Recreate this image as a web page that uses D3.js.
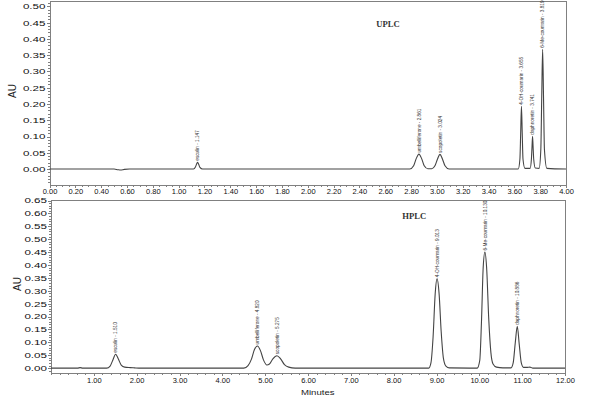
<!DOCTYPE html>
<html>
<head>
<meta charset="utf-8">
<script src="https://cdn.jsdelivr.net/npm/d3@7"></script>
<style>
  body { margin: 0; background: #fff; }
  svg { display: block; }
  .axis path, .axis line { stroke: #808080; shape-rendering: crispEdges; }
  .axis text { font-family: "Liberation Sans", Arial, sans-serif; font-size: 7.5px; fill: #111; }
  .frame { fill: none; stroke: #808080; shape-rendering: crispEdges; }
  .trace { fill: none; stroke: #444; stroke-width: 1.1; }
  .peak-label { font-family: "Liberation Sans Narrow", "Liberation Sans", Arial, sans-serif; font-size: 4.7px; fill: #333; }
  .au { font-family: "Liberation Sans", Arial, sans-serif; font-size: 10px; fill: #222; }
  .title { font-family: "Liberation Serif", "Times New Roman", serif; font-size: 7.5px; font-weight: bold; fill: #333; }
</style>
</head>
<body>
<div id="chart"></div>
<script>
// UPLC trace (minutes / AU)
var uplcTime = [0.00, 0.50, 0.53, 0.55, 0.58, 0.62,
    1.115, 1.130, 1.140, 1.147, 1.155, 1.165, 1.185,
    2.790, 2.820, 2.840, 2.861, 2.882, 2.902, 2.930,
    2.960, 2.985, 3.005, 3.024, 3.043, 3.063, 3.095,
    3.630, 3.643, 3.649, 3.655, 3.661, 3.667, 3.682,
    3.722, 3.732, 3.737, 3.741, 3.745, 3.750, 3.762,
    3.792, 3.805, 3.812, 3.819, 3.826, 3.833, 3.852, 4.00];
var uplcAU = [0.000, 0.000, -0.002, -0.003, -0.001, 0.000,
    0.000, 0.006, 0.016, 0.021, 0.015, 0.005, 0.000,
    0.000, 0.010, 0.032, 0.046, 0.032, 0.010, 0.001,
    0.001, 0.010, 0.031, 0.045, 0.031, 0.010, 0.000,
    0.000, 0.030, 0.110, 0.193, 0.110, 0.030, 0.002,
    0.002, 0.030, 0.070, 0.101, 0.070, 0.030, 0.003,
    0.002, 0.060, 0.220, 0.368, 0.220, 0.060, 0.002, 0.000];

var uplcPeakName = ["esculin", "umbelliferone", "scopoletin", "4-OH-coumarin", "daphnoretin", "6-Me-coumarin"];
var uplcPeakTime = [1.147, 2.861, 3.024, 3.655, 3.741, 3.819];
var uplcPeakAU = [0.021, 0.046, 0.045, 0.193, 0.101, 0.368];

var uplcXTicks = [0.00, 0.20, 0.40, 0.60, 0.80, 1.00, 1.20, 1.40, 1.60, 1.80, 2.00,
    2.20, 2.40, 2.60, 2.80, 3.00, 3.20, 3.40, 3.60, 3.80, 4.00];
var uplcYTicks = [0.00, 0.05, 0.10, 0.15, 0.20, 0.25, 0.30, 0.35, 0.40, 0.45, 0.50];

// HPLC trace
var hplcTime = [0.00, 0.62, 0.68, 0.74,
    1.30, 1.38, 1.44, 1.51, 1.57, 1.64, 1.72, 1.85, 1.95, 2.05,
    4.50, 4.60, 4.68, 4.75, 4.82, 4.89, 4.96, 5.04,
    5.10, 5.18, 5.275, 5.36, 5.45, 5.55, 5.70,
    8.82, 8.87, 8.92, 8.97, 9.013, 9.06, 9.11, 9.16, 9.22, 9.30,
    9.95, 10.01, 10.05, 10.09, 10.13, 10.17, 10.22, 10.27, 10.32, 10.40, 10.55,
    10.74, 10.79, 10.84, 10.886, 10.93, 10.98, 11.03, 11.12, 11.18, 11.25, 12.00];
var hplcAU = [0.000, 0.000, 0.002, 0.000,
    0.000, 0.008, 0.030, 0.054, 0.036, 0.012, 0.004, 0.002, 0.001, 0.000,
    0.000, 0.010, 0.035, 0.072, 0.086, 0.068, 0.032, 0.012,
    0.016, 0.036, 0.048, 0.036, 0.014, 0.004, 0.000,
    0.000, 0.020, 0.120, 0.290, 0.347, 0.290, 0.140, 0.040, 0.008, 0.001,
    0.000, 0.030, 0.180, 0.390, 0.450, 0.390, 0.190, 0.060, 0.016, 0.004, 0.001,
    0.001, 0.020, 0.100, 0.162, 0.095, 0.020, 0.003, 0.003, 0.004, 0.000, 0.000];

var hplcPeakName = ["esculin", "umbelliferone", "scopoletin", "4-OH-coumarin", "6-Me-coumarin", "daphnoretin"];
var hplcPeakTime = [1.510, 4.820, 5.275, 9.013, 10.130, 10.886];
var hplcPeakAU = [0.054, 0.086, 0.048, 0.347, 0.450, 0.162];

var hplcXTicks = [1.00, 2.00, 3.00, 4.00, 5.00, 6.00, 7.00, 8.00, 9.00, 10.00, 11.00, 12.00];
var hplcYTicks = [0.00, 0.05, 0.10, 0.15, 0.20, 0.25, 0.30, 0.35, 0.40, 0.45, 0.50, 0.55, 0.60, 0.65];

var width = 600, height = 406;
var fmt2 = d3.format(".2f"), fmt3 = d3.format(".3f");

var svg = d3.select("#chart").append("svg")
    .attr("width", width)
    .attr("height", height);

function drawPanel(p) {
    var x = d3.scaleLinear().domain(p.xDomain).range([p.left, p.right]);
    var y = d3.scaleLinear().domain(p.yDomain).range([p.bottom, p.top]);
    var g = svg.append("g");

    // top and right border
    g.append("path")
        .attr("class", "frame")
        .attr("d", "M" + p.left + "," + p.top + "H" + p.right + "V" + p.bottom);

    // minor ticks
    g.append("g")
        .attr("class", "axis")
        .attr("transform", "translate(0," + p.bottom + ")")
        .call(d3.axisBottom(x).tickValues(p.xMinor).tickSize(2).tickFormat(""))
        .select(".domain").remove();
    g.append("g")
        .attr("class", "axis")
        .attr("transform", "translate(" + p.left + ",0)")
        .call(d3.axisLeft(y).tickValues(p.yMinor).tickSize(2).tickFormat(""))
        .select(".domain").remove();

    // major ticks
    var xa = g.append("g")
        .attr("class", "axis")
        .attr("transform", "translate(0," + p.bottom + ")")
        .call(d3.axisBottom(x).tickValues(p.xTicks).tickSize(3).tickSizeOuter(0)
            .tickPadding(p.xPad).tickFormat(fmt2));
    xa.selectAll("text").attr("transform", "scale(" + p.xStretch + ",1)");

    var ya = g.append("g")
        .attr("class", "axis")
        .attr("transform", "translate(" + p.left + ",0)")
        .call(d3.axisLeft(y).tickValues(p.yTicks).tickSize(3).tickSizeOuter(0).tickFormat(fmt2));
    ya.selectAll("text")
        .attr("x", -4 / p.yStretch)
        .attr("transform", "scale(" + p.yStretch + ",1)");

    // trace
    var line = d3.line()
        .x(function (i) { return x(p.time[i]); })
        .y(function (i) { return y(p.au[i]); })
        .curve(d3.curveMonotoneX);
    g.append("path")
        .attr("class", "trace")
        .attr("d", line(d3.range(p.time.length)));

    // peak labels
    g.selectAll(".peak-label")
        .data(d3.range(p.peakName.length))
        .enter()
        .append("text")
        .attr("class", "peak-label")
        .attr("transform", function (i) {
            return "translate(" + x(p.peakTime[i]) + "," + (y(p.peakAU[i]) - 1.5) + ")rotate(-90)";
        })
        .attr("dy", "0.35em")
        .text(function (i) { return p.peakName[i] + " - " + fmt3(p.peakTime[i]); });

    // AU label
    g.append("text")
        .attr("class", "au")
        .attr("text-anchor", "middle")
        .attr("transform", "translate(" + p.auX + "," + p.auY + ")rotate(-90)")
        .attr("dy", "0.35em")
        .text("AU");

    // panel title
    g.append("text")
        .attr("class", "title")
        .attr("transform", "translate(" + x(p.titleAt[0]) + "," + y(p.titleAt[1]) + ")scale(1.15,1)")
        .text(p.title);

    return { x: x, y: y };
}

drawPanel({
    left: 49.5, right: 566, top: 1.5, bottom: 185,
    xDomain: [0, 4], yDomain: [-0.049, 0.515],
    xTicks: uplcXTicks, yTicks: uplcYTicks,
    xMinor: d3.range(0, 4.001, 0.05), yMinor: d3.range(-0.04, 0.511, 0.01),
    xPad: 0.5, xStretch: 1.0, yStretch: 1.55,
    time: uplcTime, au: uplcAU,
    peakName: uplcPeakName, peakTime: uplcPeakTime, peakAU: uplcPeakAU,
    auX: 12.5, auY: 91,
    title: "UPLC", titleAt: [2.53, 0.437]
});

drawPanel({
    left: 51, right: 565, top: 200.5, bottom: 373.3,
    xDomain: [0, 12], yDomain: [-0.02, 0.65],
    xTicks: hplcXTicks, yTicks: hplcYTicks,
    xMinor: d3.range(0, 12.001, 0.2), yMinor: d3.range(-0.01, 0.651, 0.01),
    xPad: 1.5, xStretch: 1.0, yStretch: 1.55,
    time: hplcTime, au: hplcAU,
    peakName: hplcPeakName, peakTime: hplcPeakTime, peakAU: hplcPeakAU,
    auX: 17, auY: 284,
    title: "HPLC", titleAt: [8.2, 0.578]
});

svg.append("text")
    .attr("class", "au")
    .attr("transform", "translate(301,395)scale(1.2,1)")
    .style("font-size", "8px")
    .text("Minutes");
</script>
</body>
</html>
